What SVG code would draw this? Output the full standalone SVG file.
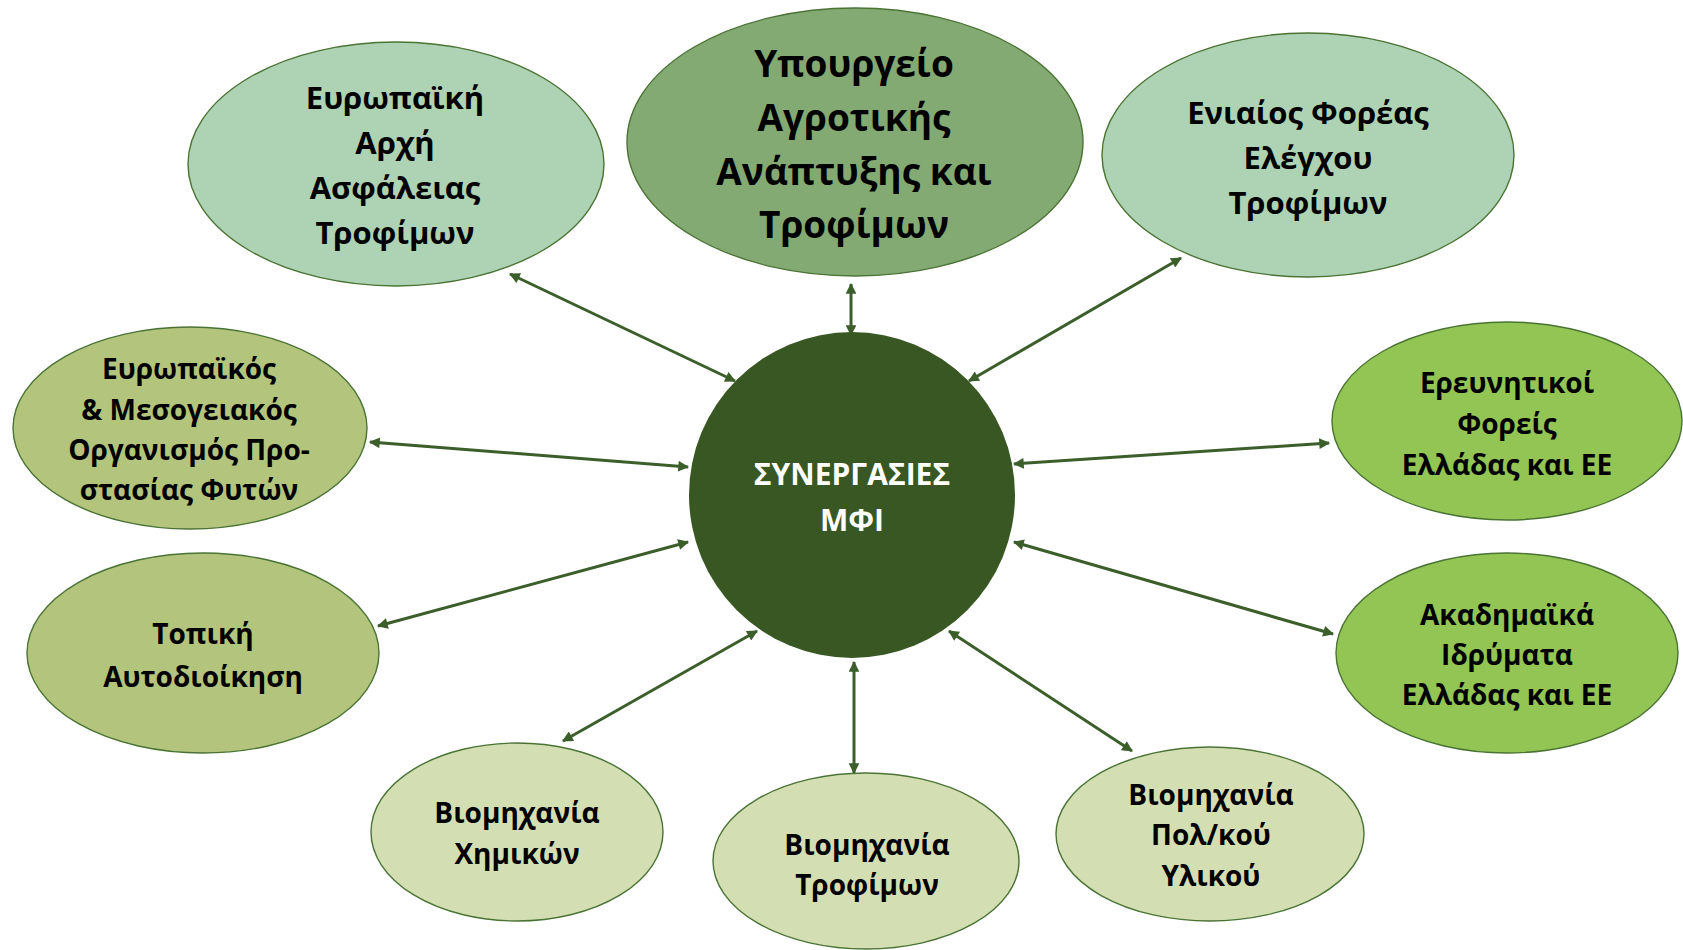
<svg xmlns="http://www.w3.org/2000/svg" width="1683" height="950" viewBox="0 0 1683 950">
<style>
.n{stroke:#4a7334;stroke-width:1.4}
.t{font-family:"Open Sans","Noto Sans","Liberation Sans",sans-serif;font-weight:700;fill:#000;text-anchor:middle;dominant-baseline:central}
.w{fill:#fff}
.c{stroke:#3b5e2b;stroke-width:3;fill:none;marker-start:url(#ah);marker-end:url(#ah)}
</style>
<defs>
<marker id="ah" viewBox="0 0 10 10" refX="9" refY="5" markerWidth="4.2" markerHeight="3.6" orient="auto-start-reverse" markerUnits="strokeWidth">
<path d="M0,0 L10,5 L0,10 Z" fill="#3b5e2b"/>
</marker>
</defs>
<rect width="1683" height="950" fill="#fff"/>
<g id="connectors">
<line class="c" x1="735" y1="381" x2="510" y2="274"/>
<line class="c" x1="851" y1="335" x2="851" y2="284"/>
<line class="c" x1="969" y1="381" x2="1181" y2="258"/>
<line class="c" x1="688" y1="467" x2="370" y2="442"/>
<line class="c" x1="688" y1="542" x2="378" y2="626"/>
<line class="c" x1="757" y1="631" x2="563" y2="741"/>
<line class="c" x1="854" y1="662" x2="854" y2="773"/>
<line class="c" x1="949" y1="631" x2="1132" y2="751"/>
<line class="c" x1="1014" y1="542" x2="1333" y2="634"/>
<line class="c" x1="1014" y1="464" x2="1329" y2="443"/>
</g>
<g id="center">
<circle cx="852" cy="495" r="163" fill="#385723"/>
<text class="t w" x="852" y="473" font-size="30">ΣΥΝΕΡΓΑΣΙΕΣ</text>
<text class="t w" x="852" y="519" font-size="30">ΜΦΙ</text>
</g>
<g id="ministry">
<ellipse class="n" cx="855" cy="142" rx="228" ry="134" fill="#84aa74"/>
<text class="t" x="854" y="62" font-size="37">Υπουργείο</text>
<text class="t" x="854" y="116" font-size="37">Αγροτικής</text>
<text class="t" x="854" y="170" font-size="37">Ανάπτυξης και</text>
<text class="t" x="854" y="223" font-size="37">Τροφίμων</text>
</g>
<g id="efsa">
<ellipse class="n" cx="396" cy="164" rx="208" ry="122" fill="#aed3b4"/>
<text class="t" x="395" y="97" font-size="31">Ευρωπαϊκή</text>
<text class="t" x="395" y="142" font-size="31">Αρχή</text>
<text class="t" x="395" y="187" font-size="31">Ασφάλειας</text>
<text class="t" x="395" y="232" font-size="31">Τροφίμων</text>
</g>
<g id="efet">
<ellipse class="n" cx="1308" cy="155" rx="206" ry="122" fill="#aed3b4"/>
<text class="t" x="1308" y="112" font-size="31">Ενιαίος Φορέας</text>
<text class="t" x="1308" y="157" font-size="31">Ελέγχου</text>
<text class="t" x="1308" y="202" font-size="31">Τροφίμων</text>
</g>
<g id="eppo">
<ellipse class="n" cx="190" cy="428" rx="177" ry="101" fill="#b3c57d"/>
<text class="t" x="189" y="368" font-size="28">Ευρωπαϊκός</text>
<text class="t" x="189" y="409" font-size="28">&amp; Μεσογειακός</text>
<text class="t" x="189" y="449" font-size="28">Οργανισμός Προ-</text>
<text class="t" x="189" y="489" font-size="28">στασίας Φυτών</text>
</g>
<g id="topiki">
<ellipse class="n" cx="203" cy="653" rx="176" ry="100" fill="#b3c57d"/>
<text class="t" x="203" y="633" font-size="28">Τοπική</text>
<text class="t" x="203" y="676" font-size="28">Αυτοδιοίκηση</text>
</g>
<g id="research">
<ellipse class="n" cx="1507" cy="421" rx="175" ry="99" fill="#92c554"/>
<text class="t" x="1507" y="382" font-size="28">Ερευνητικοί</text>
<text class="t" x="1507" y="423" font-size="28">Φορείς</text>
<text class="t" x="1507" y="464" font-size="28">Ελλάδας και ΕΕ</text>
</g>
<g id="academic">
<ellipse class="n" cx="1507" cy="653" rx="171" ry="100" fill="#92c554"/>
<text class="t" x="1507" y="614" font-size="28">Ακαδημαϊκά</text>
<text class="t" x="1507" y="654" font-size="28">Ιδρύματα</text>
<text class="t" x="1507" y="694" font-size="28">Ελλάδας και ΕΕ</text>
</g>
<g id="chemicals">
<ellipse class="n" cx="517" cy="832" rx="146" ry="89" fill="#d3dfb2"/>
<text class="t" x="517" y="812" font-size="28">Βιομηχανία</text>
<text class="t" x="517" y="853" font-size="28">Χημικών</text>
</g>
<g id="food">
<ellipse class="n" cx="866" cy="861" rx="153" ry="88" fill="#d3dfb2"/>
<text class="t" x="867" y="844" font-size="28">Βιομηχανία</text>
<text class="t" x="867" y="884" font-size="28">Τροφίμων</text>
</g>
<g id="materials">
<ellipse class="n" cx="1210" cy="834" rx="154" ry="87" fill="#d3dfb2"/>
<text class="t" x="1211" y="794" font-size="28">Βιομηχανία</text>
<text class="t" x="1211" y="834" font-size="28">Πολ/κού</text>
<text class="t" x="1211" y="875" font-size="28">Υλικού</text>
</g>
</svg>
